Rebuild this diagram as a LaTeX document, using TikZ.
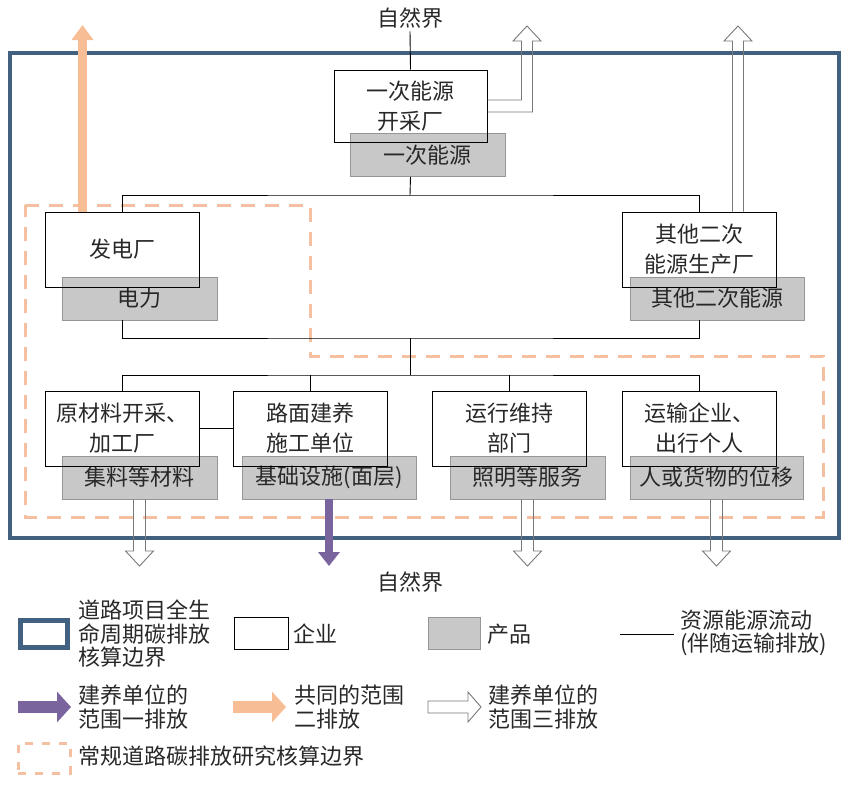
\documentclass[tikz,border=0pt]{standalone}
\usepackage{fontspec}
\setmainfont{Noto Sans CJK SC}
\usetikzlibrary{calc,arrows.meta}

\definecolor{frameblue}{RGB}{66,96,127}
\definecolor{boundorange}{RGB}{244,192,160}
\definecolor{prodgray}{RGB}{200,200,200}
\definecolor{prodline}{RGB}{150,150,150}
\definecolor{hollowgray}{RGB}{120,120,120}
\definecolor{purpleone}{RGB}{122,100,158}
\definecolor{orangetwo}{RGB}{247,190,150}
\definecolor{txtgray}{RGB}{40,40,40}

\newcommand\boxtxt{\fontsize{22}{30}\selectfont}
\newcommand\legtxt{\fontsize{22}{23.5}\selectfont}

\tikzset{
  firm/.style={draw=black, line width=1pt, minimum width=154pt, minimum height=75pt,
    inner sep=0pt, align=center, font=\boxtxt, text=txtgray},
  product/.style={draw=prodline, fill=prodgray, line width=0.8pt, minimum height=43pt,
    inner sep=0pt, font=\boxtxt, text=txtgray},
  lbl/.style={font=\boxtxt, text=txtgray, inner sep=3pt},
  legend/.style={font=\legtxt, text=txtgray, inner sep=0pt, anchor=west, align=left},
  flow/.style={line width=0.9pt, black},
  hollow/.style={draw=hollowgray, line width=0.9pt, line join=miter},
  scopeone/.style={draw=purpleone, line width=8pt, -{Triangle[length=14pt,width=21pt]}},
  scopetwo/.style={draw=orangetwo, line width=9pt, -{Triangle[length=15pt,width=21pt]}},
  frame/.style={draw=frameblue, line width=4.5pt},
  bound/.style={draw=boundorange, line width=3pt, dash pattern=on 14pt off 10pt}
}

% hollow arrow pointing down: #1 start, #2 tip
\newcommand\hollowdown[2]{%
  \draw[hollow] ($(#1)+(-6,0)$) -- ($(#2)+(-6,-15)$) -- ($(#2)+(-14,-15)$) -- (#2)
    -- ($(#2)+(14,-15)$) -- ($(#2)+(6,-15)$) -- ($(#1)+(6,0)$);}

\begin{document}
\begin{tikzpicture}[x=1pt,y=-1pt]
\useasboundingbox (0,0) rectangle (848,785);

% boundaries
\draw[frame] (10,53) rectangle (839,538);
\draw[bound] (25,205) -- (310,205) -- (310,356) -- (823,356) -- (823,517) -- (25,517) -- cycle;

% products
\node[product, minimum width=155pt] (pe) at (427.5,155) {一次能源};
\node[product, minimum width=155pt] (elec) at (139.5,298.5) {电力};
\node[product, minimum width=174pt] (sec) at (717,298.5) {其他二次能源};
\node[product, minimum width=155pt] (agg) at (139.5,477.5) {集料等材料};
\node[product, minimum width=174pt] (infra) at (329,477.5) {基础设施(面层)};
\node[product, minimum width=155pt] (light) at (527.5,477.5) {照明等服务};
\node[product, minimum width=173pt] (move) at (716.5,477.5) {人或货物的位移};

% firms
\node[firm, minimum width=153pt, minimum height=72pt] (mine) at (410.5,106) {一次能源\\开采厂};
\node[firm] (power) at (122,249.5) {发电厂};
\node[firm] (other) at (699.5,249.5) {其他二次\\能源生产厂};
\node[firm] (raw) at (122,428.5) {原材料开采、\\加工厂};
\node[firm] (build) at (310.5,428.5) {路面建养\\施工单位};
\node[firm] (oper) at (509.5,428.5) {运行维持\\部门};
\node[firm] (trans) at (699.5,428.5) {运输企业、\\出行个人};

\node[lbl] (ntop) at (410,18) {自然界};
\node[lbl] (nbot) at (410,582) {自然界};

% flows
\coordinate (j1) at (410,195);
\coordinate (j2) at (410,338);
\coordinate (j3) at (410,375);
\draw[flow] (ntop.south) -- (mine.north);
\draw[flow] (pe.south -| mine.south) -- (j1);
\draw[flow] (power.north) |- (j1) -| (other.north);
\draw[flow] (elec.south -| power.south) |- (j2) -| (sec.south -| other.south);
\draw[flow] (j2) -- (j3);
\draw[flow] (raw.north) |- (j3) -| (trans.north);
\draw[flow] (build.north) -- (build.north |- j3);
\draw[flow] (oper.north) -- (oper.north |- j3);
\draw[flow] (raw.east) -- (build.west);

% scope 2
\coordinate (tpower) at (82.5,25);
\draw[scopetwo] (tpower |- power.north) -- (tpower);

% scope 3, up
\coordinate (tmine) at (527,26);
\draw[hollow] ($(mine.east)+(0,-6)$) -| ($(tmine)+(-5.5,15)$) -- ($(tmine)+(-14,15)$) -- (tmine)
  -- ($(tmine)+(14,15)$) -- ($(tmine)+(5.5,15)$) |- ($(mine.east)+(0,6)$);
\coordinate (tother) at (738,26);
\coordinate (sother) at (tother |- other.north);
\draw[hollow] ($(sother)+(-5.5,0)$) -- ($(tother)+(-5.5,15)$) -- ($(tother)+(-14,15)$) -- (tother)
  -- ($(tother)+(14,15)$) -- ($(tother)+(5.5,15)$) -- ($(sother)+(5.5,0)$);

% scope 3, down
\coordinate (natbot) at (410,566);
\coordinate (tagg) at (agg.south |- natbot);
\coordinate (tlight) at (light.south |- natbot);
\coordinate (tmove) at (move.south |- natbot);
\hollowdown{agg.south}{tagg}
\hollowdown{light.south}{tlight}
\hollowdown{move.south}{tmove}

% scope 1
\draw[scopeone] (infra.south) -- (infra.south |- natbot);

% legend
\node[draw=frameblue, line width=5pt, minimum width=47pt, minimum height=27pt] (lgframe) at (44,634) {};
\node[legend] (lgframetxt) at (78,634) {道路项目全生\\命周期碳排放\\核算边界};
\node[draw=black, line width=1pt, minimum width=54pt, minimum height=32pt] (lgfirm) at (261,633) {};
\node[legend] (lgfirmtxt) at (293,634) {企业};
\node[draw=prodline, fill=prodgray, line width=0.8pt, minimum width=52pt, minimum height=32pt] (lgprod) at (454,633) {};
\node[legend] (lgprodtxt) at (487,634) {产品};
\coordinate (lgflowa) at (620,634);
\coordinate (lgflowb) at (674,634);
\draw[flow] (lgflowa) -- (lgflowb);
\node[legend] (lgflowtxt) at (680,633) {资源能源流动\\(伴随运输排放)};

\coordinate (lgonea) at (18,707);
\coordinate (lgoneb) at (71,707);
\draw[scopeone, line width=12pt, -{Triangle[length=14pt,width=30pt]}] (lgonea) -- (lgoneb);
\node[legend] (lgonetxt) at (78,707) {建养单位的\\范围一排放};
\coordinate (lgtwoa) at (233,707);
\coordinate (lgtwob) at (286,707);
\draw[scopetwo, line width=12pt, -{Triangle[length=14pt,width=30pt]}] (lgtwoa) -- (lgtwob);
\node[legend] (lgtwotxt) at (294,707) {共同的范围\\二排放};
\coordinate (lgthree) at (481,707);
\draw[hollow] ($(lgthree)+(-53,-6)$) -- ($(lgthree)+(-13,-6)$) -- ($(lgthree)+(-13,-15)$) -- (lgthree)
  -- ($(lgthree)+(-13,15)$) -- ($(lgthree)+(-13,6)$) -- ($(lgthree)+(-53,6)$) -- cycle;
\node[legend] (lgthreetxt) at (488,707) {建养单位的\\范围三排放};

\node[draw=boundorange, line width=3pt, dash pattern=on 8pt off 9pt, minimum width=52pt, minimum height=30pt] (lgbound) at (44,758) {};
\node[legend] (lgboundtxt) at (78,756) {常规道路碳排放研究核算边界};
\end{tikzpicture}
\end{document}
